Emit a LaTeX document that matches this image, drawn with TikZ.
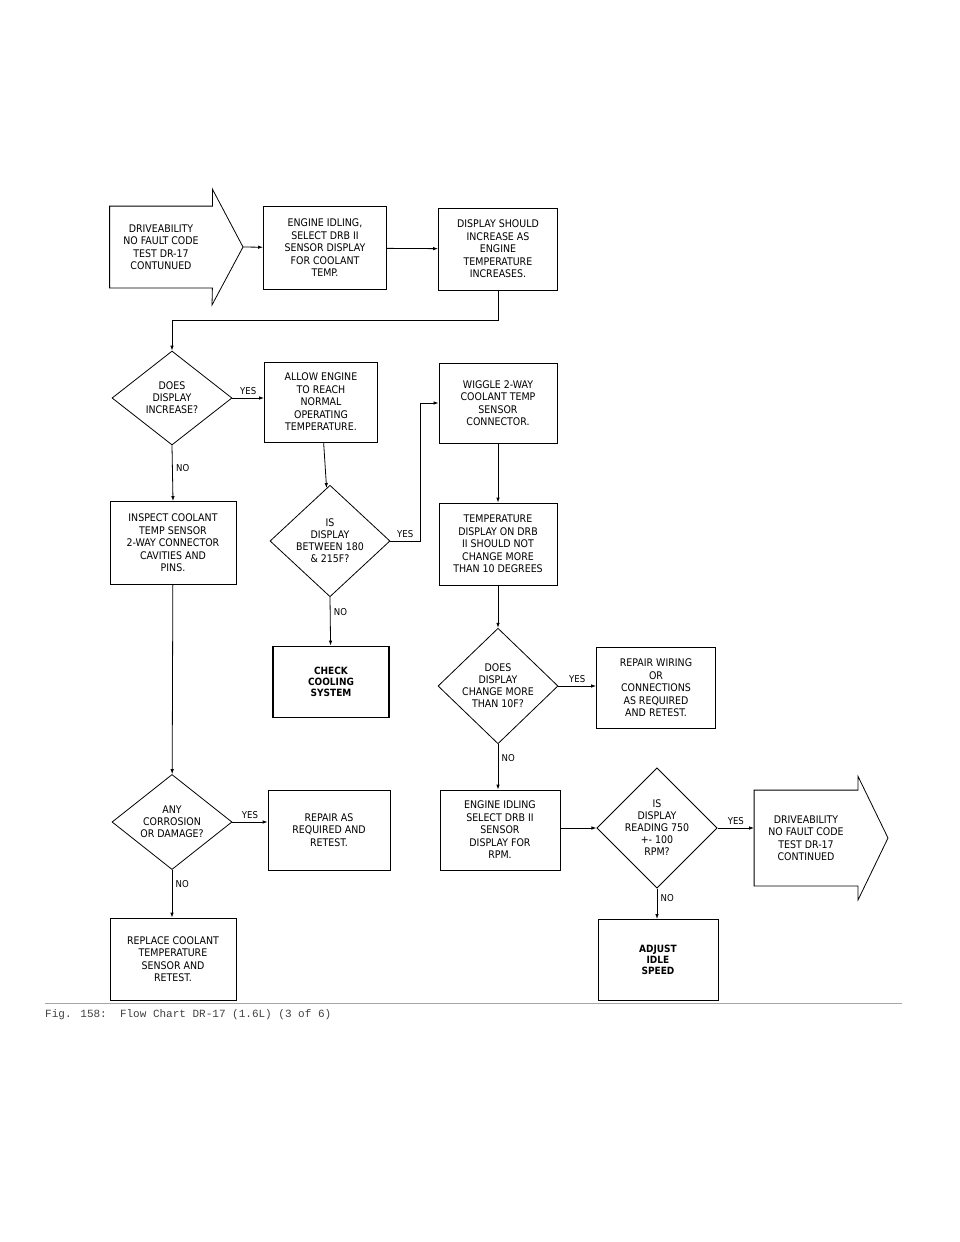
\documentclass[tikz,border=0pt]{standalone}
\usepackage{fontspec}
\setmainfont{DejaVu Sans Condensed}
\newfontfamily\capfont{Liberation Mono}
\usetikzlibrary{arrows.meta,shapes.geometric}
\tikzset{
    stepbox/.style = {
        draw, thick, align=center, inner sep=1pt,
        font=\fontsize{10.5}{12.5}\selectfont,
        },
    thickbox/.style = {
        stepbox, line width=1.8pt, font=\fontsize{10}{11}\selectfont\bfseries,
        },
    query/.style = {
        draw, thick, diamond, align=center, inner sep=0pt,
        minimum width=120pt, minimum height=94pt,
        font=\fontsize{10.5}{12}\selectfont,
        },
    flow/.style = {
        thick, -{Latex[length=5pt,width=3.5pt]},
        },
    answer/.style = {
        font=\fontsize{9.5}{10}\selectfont,
        },
}
\begin{document}
\begin{tikzpicture}[x=1pt,y=-1pt]
    \useasboundingbox (0,0) rectangle (960,1242);

    % top row
    \node[stepbox, draw=none, minimum width=102pt, minimum height=81pt] (start) at (161,247) {DRIVEABILITY\\NO FAULT CODE\\TEST DR-17\\CONTUNUED};
    \draw[thick] (start.north west) -- (start.north east) -- ++(0,-17) -- (243,247) -- (212,305) -- (start.south east) -- (start.south west) -- cycle;
    \node[stepbox, minimum width=123pt, minimum height=83pt] (idle) at (325,248) {ENGINE IDLING,\\SELECT DRB II\\SENSOR DISPLAY\\FOR COOLANT\\TEMP.};
    \node[stepbox, minimum width=119pt, minimum height=82pt] (rise) at (498,249) {DISPLAY SHOULD\\INCREASE AS\\ENGINE\\TEMPERATURE\\INCREASES.};

    % second row
    \node[query] (q1) at (172,398) {DOES\\DISPLAY\\INCREASE?};
    \node[stepbox, minimum width=113pt, minimum height=80pt] (warm) at (321,402) {ALLOW ENGINE\\TO REACH\\NORMAL\\OPERATING\\TEMPERATURE.};
    \node[stepbox, minimum width=118pt, minimum height=80pt] (wiggle) at (498,403) {WIGGLE 2-WAY\\COOLANT TEMP\\SENSOR\\CONNECTOR.};

    % third row
    \node[stepbox, minimum width=126pt, minimum height=83pt] (inspect) at (173,543) {INSPECT COOLANT\\TEMP SENSOR\\2-WAY CONNECTOR\\CAVITIES AND\\PINS.};
    \node[query] (q2) at (330,541) {IS\\DISPLAY\\BETWEEN 180\\\& 215F?};
    \node[stepbox, minimum width=118pt, minimum height=82pt] (steady) at (498,544) {TEMPERATURE\\DISPLAY ON DRB\\II SHOULD NOT\\CHANGE MORE\\THAN 10 DEGREES};

    % fourth row
    \node[thickbox, minimum width=116pt, minimum height=71pt] (cool) at (331,682) {CHECK\\COOLING\\SYSTEM};
    \node[query, minimum height=100pt] (q3) at (498,686) {DOES\\DISPLAY\\CHANGE MORE\\THAN 10F?};
    \node[stepbox, minimum width=119pt, minimum height=81pt] (wiring) at (656,688) {REPAIR WIRING\\OR\\CONNECTIONS\\AS REQUIRED\\AND RETEST.};

    % fifth row
    \node[query] (q5) at (172,822) {ANY\\CORROSION\\OR DAMAGE?};
    \node[stepbox, minimum width=122pt, minimum height=80pt] (repair) at (329,830) {REPAIR AS\\REQUIRED AND\\RETEST.};
    \node[stepbox, minimum width=120pt, minimum height=80pt] (rpm) at (500,830) {ENGINE IDLING\\SELECT DRB II\\SENSOR\\DISPLAY FOR\\RPM.};
    \node[query, minimum height=104pt] (q4) at (657,828) {IS\\DISPLAY\\READING 750\\+- 100\\RPM?};
    \node[stepbox, draw=none, minimum width=103pt, minimum height=95pt] (finish) at (806,838) {DRIVEABILITY\\NO FAULT CODE\\TEST DR-17\\CONTINUED};
    \draw[thick] (finish.north west) -- (finish.north east) -- ++(0,-14) -- (888,838) -- (858,900) -- (finish.south east) -- (finish.south west) -- cycle;

    % last row
    \node[stepbox, minimum width=126pt, minimum height=82pt] (replace) at (173,959) {REPLACE COOLANT\\TEMPERATURE\\SENSOR AND\\RETEST.};
    \node[thickbox, line width=1pt, minimum width=120pt, minimum height=81pt] (adjust) at (658,960) {ADJUST\\IDLE\\SPEED};

    % connectors
    \draw[flow] (243,247) -- (idle);
    \draw[flow] (idle) -- (rise);
    \draw[flow] (rise.south) -- ++(0,30) -| (q1.north);
    \draw[flow] (q1.east) -- node[answer, above] {YES} (warm.west |- q1.east);
    \draw[flow] (q1.south) -- node[answer, right, pos=0.4] {NO} (inspect.north);
    \draw[flow] (warm) -- (q2);
    \draw[flow] (q2.east) -- node[answer, above] {YES} (420,541) |- (wiggle.west);
    \draw[flow] (q2.south) -- node[answer, right, pos=0.3] {NO} (cool);
    \draw[flow] (wiggle) -- (steady);
    \draw[flow] (steady) -- (q3);
    \draw[flow] (q3.east) -- node[answer, above] {YES} (wiring.west |- q3.east);
    \draw[flow] (q3.south) -- node[answer, right, pos=0.3] {NO} (rpm.north -| q3.south);
    \draw[flow] (rpm.east |- q4.west) -- (q4.west);
    \draw[flow] (q4.east) -- node[answer, above] {YES} (finish.west |- q4.east);
    \draw[flow] (q4.south) -- node[answer, right, pos=0.3] {NO} (adjust.north -| q4.south);
    \draw[flow] (inspect) -- (q5);
    \draw[flow] (q5.east) -- node[answer, above] {YES} (repair.west |- q5.east);
    \draw[flow] (q5.south) -- node[answer, right, pos=0.3] {NO} (replace.north -| q5.south);

    % caption
    \draw[gray!70] (45,1003) -- (902,1003);
    \node[anchor=north west, inner sep=0pt, text=gray!50!black, font=\capfont\fontsize{11}{12}\selectfont] (caption) at (45,1009) {Fig. 158:~~Flow Chart DR-17 (1.6L) (3 of 6)};
\end{tikzpicture}
\end{document}
